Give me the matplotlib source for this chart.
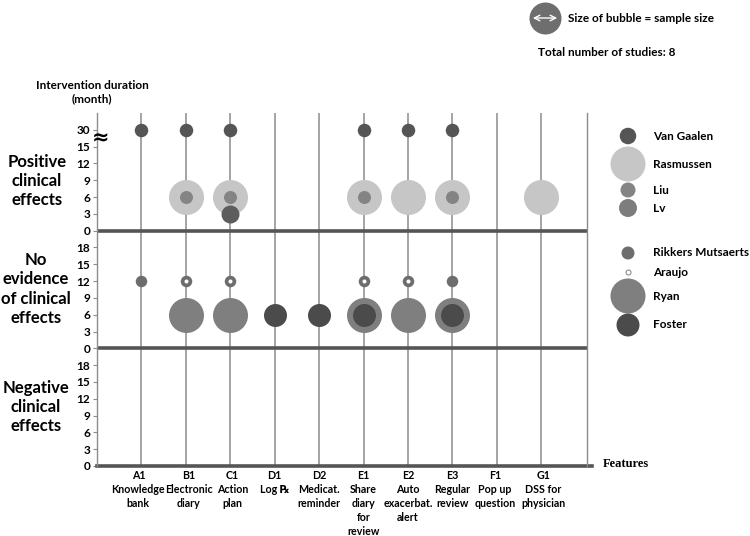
import matplotlib.pyplot as plt
from matplotlib.transforms import ScaledTranslation

plt.rcParams['font.family'] = ['Lato', 'DejaVu Sans']
plt.rcParams['font.weight'] = 'bold'

features = ["A1\nKnowledge\nbank", "B1\nElectronic\ndiary", "C1\nAction\nplan",
            "D1\nLog \u211e", "D2\nMedicat.\nreminder", "E1\nShare\ndiary\nfor\nreview",
            "E2\nAuto\nexacerbat.\nalert", "E3\nRegular\nreview", "F1\nPop up\nquestion",
            "G1\nDSS for\nphysician"]
codes = ["A1", "B1", "C1", "D1", "D2", "E1", "E2", "E3", "F1", "G1"]

bands = ["Negative\nclinical\neffects", "No\nevidence\nof clinical\neffects",
         "Positive\nclinical\neffects"]
band_ticks = [0, 3, 6, 9, 12, 15, 18]

# study: band index, duration (months), features
van_gaalen = (2, 30, ["A1", "B1", "C1", "E1", "E2", "E3"])
rasmussen = (2, 6, ["B1", "C1", "E1", "E2", "E3", "G1"])
liu = (2, 6, ["B1", "C1", "E1", "E3"])
lv = (2, 3, ["C1"])
rikkers = (1, 12, ["A1", "B1", "C1", "E1", "E2", "E3"])
araujo = (1, 12, ["B1", "C1", "E1", "E2"])
ryan = (1, 6, ["B1", "C1", "E1", "E2", "E3"])
foster = (1, 6, ["D1", "D2", "E1", "E3"])

BAND_H = 21


def ypos(band, dur):
    # 30 months is drawn above a break at the 18 position
    return band * BAND_H + (18 if dur == 30 else dur)


def s(d):
    return (d * 0.72) ** 2


fig = plt.figure(figsize=(7.5, 5.36), dpi=100)
ax = fig.add_axes([97 / 750, 70 / 536, 490 / 750, 353 / 536])
ax.set_xlim(0, 11.03)
ax.set_ylim(0, 63)

for i in range(len(codes)):
    ax.axvline(i + 1, color="#8c8c8c", lw=1.1, zorder=1)

for b in (1, 2):
    ax.axhline(b * BAND_H, color="#555555", lw=2.6, zorder=2)
ax.plot([0, 1.01], [0, 0], transform=ax.transAxes, color="#555555", lw=2.6,
        clip_on=False, zorder=2)

studies = [
    (rasmussen, "#c6c6c6", 35),
    (liu, "#848484", 13),
    (lv, "#5d5d5d", 18),
    (van_gaalen, "#555555", 13.5),
    (ryan, "#7f7f7f", 35),
    (foster, "#4b4b4b", 23),
    (rikkers, "#6d6d6d", 11.5),
    (araujo, "white", 4),
]
for (band, dur, feats), col, d in studies:
    xs = [codes.index(f) + 1 for f in feats]
    ax.scatter(xs, [ypos(band, dur)] * len(xs), s=s(d), color=col,
               linewidths=0, zorder=3)

yt, yl = [], []
for b in range(3):
    for t in band_ticks:
        yt.append(b * BAND_H + t)
        yl.append("30" if (b == 2 and t == 18) else str(t))
ax.set_yticks(yt)
ax.set_yticklabels(yl, fontsize=8.5, fontweight="bold")
ax.tick_params(axis="y", length=3, color="#8c8c8c", pad=2)

ax.set_xticks(range(1, len(codes) + 1))
ax.set_xticklabels(features, fontsize=7.7, fontweight="bold", linespacing=1.32)
ax.tick_params(axis="x", length=0, pad=3)
# nudge crowded labels apart a little
for lab, dx in zip(ax.get_xticklabels(), [-3, 3, 2, 0, 0, 0, 0, 0, -2, 2]):
    lab.set_transform(lab.get_transform() + ScaledTranslation(dx / 100, 0, fig.dpi_scale_trans))

for sp in ["top", "bottom"]:
    ax.spines[sp].set_visible(False)
for sp in ["left", "right"]:
    ax.spines[sp].set_color("#8c8c8c")
    ax.spines[sp].set_linewidth(1.0)

# overlay in pixel coordinates for annotations
ov = fig.add_axes([0, 0, 1, 1])
ov.set_xlim(0, 750)
ov.set_ylim(536, 0)
ov.axis("off")

ov.text(101, 138, "\u2248", fontsize=15, ha="center", va="center",
        family="DejaVu Sans")

ov.text(92, 92, "Intervention duration\n(month)", fontsize=8.5, ha="center",
        va="center", linespacing=1.3)

band_centers = [(36, 407), (36, 289), (37, 181)]
for (x, y), lab in zip(band_centers, bands):
    ov.text(x, y, lab, fontsize=12, ha="center", va="center", linespacing=1.25)

ov.text(603, 464, "Features", fontsize=9, family="Liberation Serif",
        ha="left", va="center")

# bubble key
ov.scatter([545], [18], s=s(32), color="#6e6e6e", linewidths=0)
ov.annotate("", xy=(560, 18), xytext=(530, 18),
            arrowprops=dict(arrowstyle="<->", color="white", lw=1.0))
ov.text(568, 19, "Size of bubble = sample size", fontsize=8.5, va="center")
ov.text(538, 52, "Total number of studies: 8", fontsize=8.5, va="center")

legend_names = ["Van Gaalen", "Rasmussen", "Liu", "Lv",
                "Rikkers Mutsaerts", "Araujo", "Ryan", "Foster"]
legend_y = [136, 164, 190, 208, 253, 272, 296, 325]
legend_c = ["#555555", "#c6c6c6", "#848484", "#7d7d7d",
            "#6d6d6d", "white", "#7f7f7f", "#4b4b4b"]
legend_d = [16.5, 35, 15, 18, 13, 5, 35, 23]
for name, y, c, d in zip(legend_names, legend_y, legend_c, legend_d):
    ec = "#8c8c8c" if c == "white" else "none"
    ov.scatter([628], [y], s=s(d), color=c, edgecolors=ec, linewidths=0.8)
    ov.text(653, y, name, fontsize=8.5, va="center")

fig.savefig("out.png", dpi=100)
